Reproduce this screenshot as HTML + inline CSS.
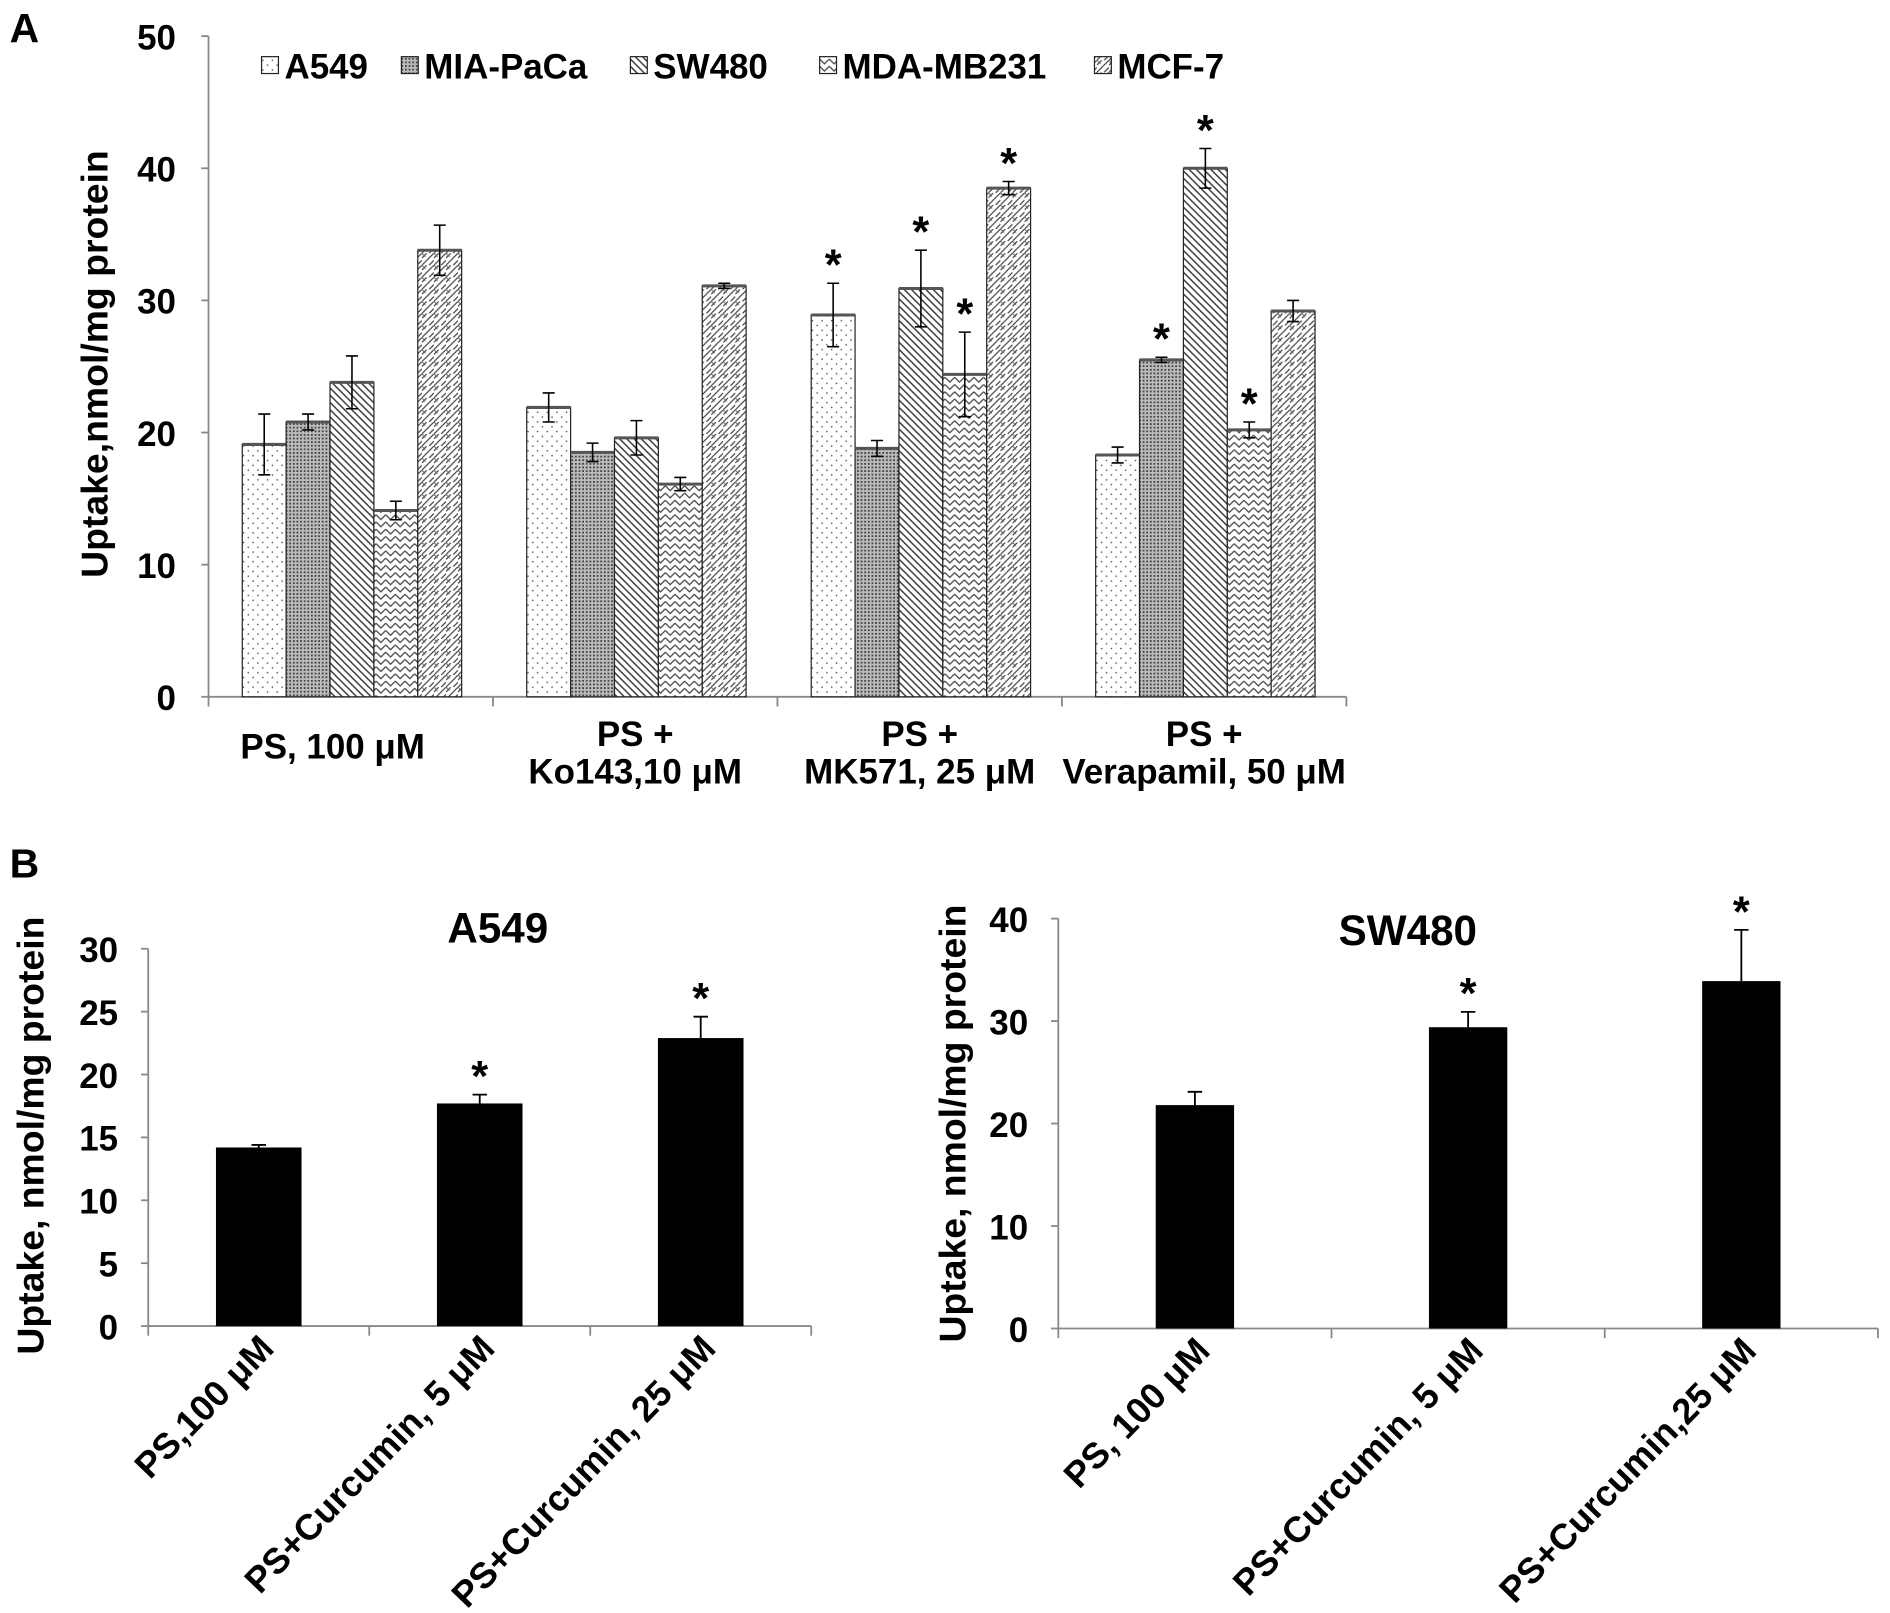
<!DOCTYPE html>
<html><head><meta charset="utf-8"><style>
html,body{margin:0;padding:0;background:#fff;}
svg{display:block;}
text{font-family:"Liberation Sans",Arial,sans-serif;font-weight:bold;fill:#000;}
</style></head><body>
<svg id="fig" width="1890" height="1613" viewBox="0 0 1568 1338" preserveAspectRatio="none" xmlns="http://www.w3.org/2000/svg">
<defs>
<pattern id="p0" width="8" height="8" patternUnits="userSpaceOnUse"><rect width="8" height="8" fill="#fff"/><circle cx="2" cy="2" r="0.7" fill="#555"/><circle cx="6" cy="6" r="0.7" fill="#555"/></pattern>
<pattern id="p1" width="3" height="3" patternUnits="userSpaceOnUse"><rect width="3" height="3" fill="#bbb"/><rect width="1.5" height="1.5" fill="#444"/></pattern>
<pattern id="p2" width="6" height="6" patternUnits="userSpaceOnUse"><rect width="6" height="6" fill="#fff"/><path d="M-1,-1 L7,7 M-4,2 L4,10 M2,-4 L10,4" stroke="#333" stroke-width="1.2"/></pattern>
<pattern id="p3" width="8" height="6" patternUnits="userSpaceOnUse"><rect width="8" height="6" fill="#fff"/><path d="M0,1 L4,5 L8,1" fill="none" stroke="#444" stroke-width="1"/></pattern>
<pattern id="p4" width="10" height="10" patternUnits="userSpaceOnUse"><rect width="10" height="10" fill="#fff"/><path d="M0,10 L10,0 M0,4 L4,0 M6,10 L10,6" stroke="#444" stroke-width="1"/><path d="M0,0 L3,3" stroke="#666" stroke-width="0.8"/></pattern>
</defs>
<text x="8" y="35" font-size="34">A</text>
<text x="8" y="728" font-size="34">B</text>
<g id="chartA"></g>
<g id="chartB1"></g>
<g id="chartB2"></g>
</svg>
<script>
const NS="http://www.w3.org/2000/svg";
const seriesNames=["A549","MIA-PaCa","SW480","MDA-MB231","MCF-7"];
const groupsA=[["PS, 100 μM"],["PS +","Ko143,10 μM"],["PS +","MK571, 25 μM"],["PS +","Verapamil, 50 μM"]];
const valsA549=[19.1,21.9,28.9,18.3];
const valsMIA=[20.8,18.5,18.8,25.5];
const valsSW=[23.8,19.6,30.9,40.0];
const valsMDA=[14.1,16.1,24.4,20.2];
const valsMCF=[33.8,31.1,38.5,29.2];
const errA549=[2.3,1.1,2.4,0.6];
const errMIA=[0.6,0.7,0.6,0.2];
const errSW=[2.0,1.3,2.9,1.5];
const errMDA=[0.7,0.5,3.2,0.6];
const errMCF=[1.9,0.2,0.5,0.8];
const starA549=[0,0,1,0],starMIA=[0,0,0,1],starSW=[0,0,1,1],starMDA=[0,0,1,1],starMCF=[0,0,1,0];
const ticksA=[0,10,20,30,40,50];

const catsB1=["PS,100 μM","PS+Curcumin, 5 μM","PS+Curcumin, 25 μM"];
const valsB1=[14.2,17.7,22.9];
const errB1=[0.2,0.7,1.7];
const starB1=[0,1,1];
const ticksB1=[0,5,10,15,20,25,30];
const catsB2=["PS, 100 μM","PS+Curcumin, 5 μM","PS+Curcumin,25 μM"];
const valsB2=[21.8,29.4,33.9];
const errB2=[1.3,1.5,5.0];
const starB2=[0,1,1];
const ticksB2=[0,10,20,30,40];

function el(p,tag,attrs,txt){const e=document.createElementNS(NS,tag);for(const k in attrs)e.setAttribute(k,attrs[k]);if(txt!==undefined)e.textContent=txt;p.appendChild(e);return e;}

// Panel A
(function(){
const g=document.getElementById('chartA');
const x0=173,x1=1117,y0=578,yTop=30,ymax=50;
const ys=v=>y0-(v/ymax)*(y0-yTop);
const gw=(x1-x0)/groupsA.length, bw=36.4, off=28;
const vals=[valsA549,valsMIA,valsSW,valsMDA,valsMCF];
const errs=[errA549,errMIA,errSW,errMDA,errMCF];
const stars=[starA549,starMIA,starSW,starMDA,starMCF];
let a=el(g,'line',{x1:x0,y1:yTop,x2:x0,y2:y0,stroke:'#888','stroke-width':1.5});

a=el(g,'line',{x1:x0,y1:y0,x2:x1,y2:y0,stroke:'#888','stroke-width':1.5});

ticksA.forEach(t=>{el(g,'line',{x1:x0-6,y1:ys(t),x2:x0,y2:ys(t),stroke:'#888','stroke-width':1.5});
 const tl=el(g,'text',{x:x0-27,y:ys(t)+11,'font-size':29,'text-anchor':'end'},t);
 });
for(let i=0;i<=groupsA.length;i++)el(g,'line',{x1:x0+i*gw,y1:y0,x2:x0+i*gw,y2:y0+8,stroke:'#888','stroke-width':1.5});
groupsA.forEach((gl,gi)=>{
 gl.forEach((line,li)=>{const t=el(g,'text',{x:x0+gw*gi+gw/2+(gl.length==1?-15:0),y:(gl.length==1?629:619+li*31),'font-size':29,'text-anchor':'middle'},line);
  });
 for(let s=0;s<5;s++){
  const v=vals[s][gi],e=errs[s][gi];
  const bx=x0+gw*gi+off+s*bw;
  const r=el(g,'rect',{x:bx,y:ys(v),width:bw,height:y0-ys(v),fill:'url(#p'+s+')',stroke:'#222','stroke-width':1});
  
  
  el(g,'line',{x1:bx,y1:ys(v),x2:bx+bw,y2:ys(v),stroke:'#555','stroke-width':2.5});
  const cx=bx+bw/2;
  el(g,'path',{d:`M${cx},${ys(v+e)}V${ys(v-e)}M${cx-5},${ys(v+e)}H${cx+5}M${cx-5},${ys(v-e)}H${cx+5}`,stroke:'#000','stroke-width':1.3,fill:'none'});
  if(stars[s][gi]){const st=el(g,'text',{x:cx,y:ys(v+e)-3,'font-size':36,'text-anchor':'middle'},'*');
   }
 }
});
const yl=el(g,'text',{x:0,y:0,'font-size':31,'text-anchor':'middle',transform:'translate(89,302) rotate(-90)'},'Uptake,nmol/mg protein');

const lx=[217,333,523,680,908];
seriesNames.forEach((n,s)=>{
 const le=el(g,'g',{});
 
 el(le,'rect',{x:lx[s],y:47,width:14,height:14,fill:'url(#p'+s+')',stroke:'#222','stroke-width':1});
 el(le,'text',{x:lx[s]+19,y:65,'font-size':29},n);
});
})();

function drawB(gid,cats,vals,errs,stars,ticks,cfg){
 const g=document.getElementById(gid);
 const {x0,x1,y0,yTop,ymax,bw,title,tx,ty,lblx,lbly}=cfg;
 const ys=v=>y0-(v/ymax)*(y0-yTop);
 const cw=(x1-x0)/cats.length;
 let a=el(g,'line',{x1:x0,y1:yTop,x2:x0,y2:y0,stroke:'#888','stroke-width':1.5});
 
 a=el(g,'line',{x1:x0,y1:y0,x2:x1,y2:y0,stroke:'#888','stroke-width':1.5});
 
 ticks.forEach(t=>{el(g,'line',{x1:x0-6,y1:ys(t),x2:x0,y2:ys(t),stroke:'#888','stroke-width':1.5});
  const tl=el(g,'text',{x:x0-25,y:ys(t)+11,'font-size':29,'text-anchor':'end'},t);
  });
 for(let i=0;i<=cats.length;i++)el(g,'line',{x1:x0+i*cw,y1:y0,x2:x0+i*cw,y2:y0+8,stroke:'#888','stroke-width':1.5});
 cats.forEach((c,i)=>{
  const cx=x0+cw*i+cw/2,v=vals[i],e=errs[i];
  const r=el(g,'rect',{x:cx-bw/2,y:ys(v),width:bw,height:y0-ys(v),fill:'#000'});
  
  el(g,'path',{d:`M${cx},${ys(v)}V${ys(v+e)}M${cx-6},${ys(v+e)}H${cx+6}`,stroke:'#000','stroke-width':1.5,fill:'none'});
  if(stars[i]){const st=el(g,'text',{x:cx,y:ys(v+e)-3,'font-size':36,'text-anchor':'middle'},'*');
   }
  const lx=cx+14,ly=y0+20;
  const t=el(g,'text',{x:0,y:0,'font-size':30,'text-anchor':'end',transform:`translate(${lx},${ly}) rotate(-46)`},c);
  
 });
 const tt=el(g,'text',{x:tx,y:ty,'font-size':35,'text-anchor':'middle'},title);
 
 const yl=el(g,'text',{x:0,y:0,'font-size':31,'text-anchor':'middle',transform:`translate(${lblx},${lbly}) rotate(-90)`},'Uptake, nmol/mg protein');
 
}
drawB('chartB1',catsB1,valsB1,errB1,starB1,ticksB1,{x0:123,x1:673,y0:1100,yTop:787,ymax:30,bw:71,title:'A549',tx:413,ty:782,lblx:36,lbly:942});
drawB('chartB2',catsB2,valsB2,errB2,starB2,ticksB2,{x0:878,x1:1558,y0:1102,yTop:762,ymax:40,bw:65,title:'SW480',tx:1168,ty:784,lblx:801,lbly:932});
</script>
</body></html>
